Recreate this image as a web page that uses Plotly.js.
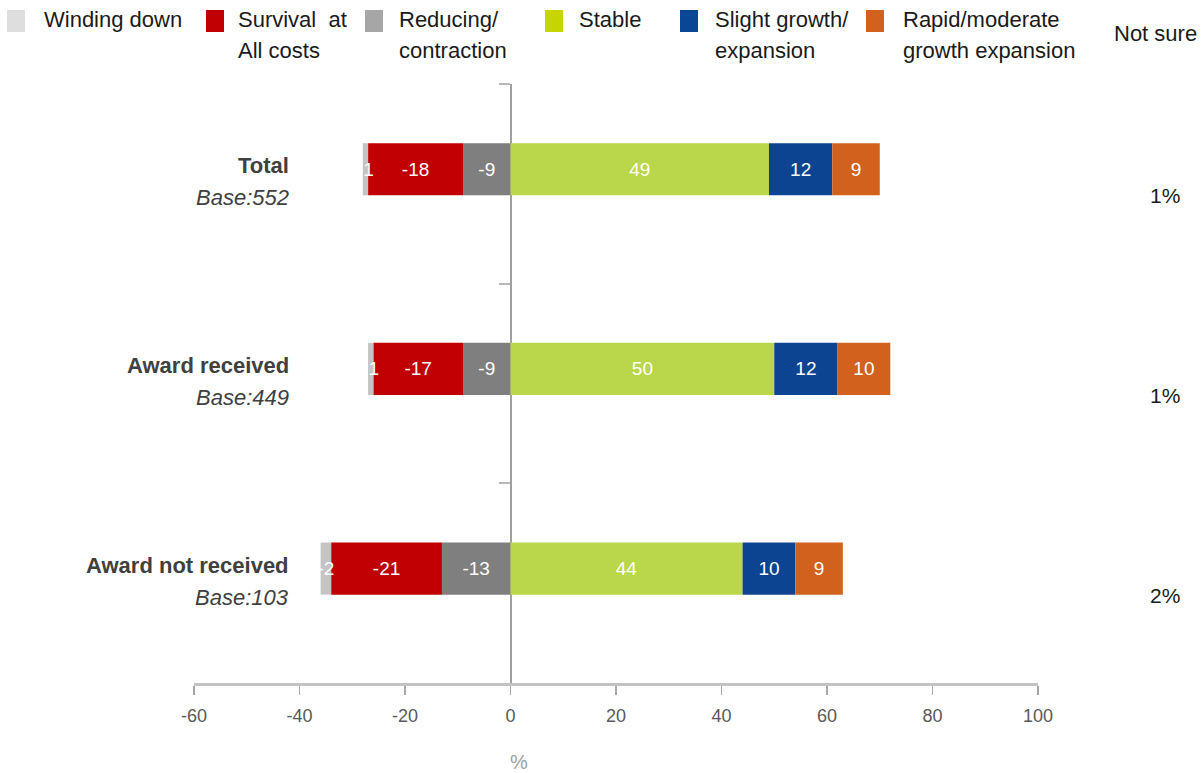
<!DOCTYPE html>
<html>
<head>
<meta charset="utf-8">
<script src="https://cdn.plot.ly/plotly-3.0.1.min.js"></script>
<style>
  html, body { margin: 0; padding: 0; background: #ffffff; }
  #chart { width: 1202px; height: 773px; }
</style>
</head>
<body>
<div id="chart"></div>
<script>
// ---------- DATA ----------
var categories   = ['Total', 'Award received', 'Award not received'];
var baseLabels   = ['Base:552', 'Base:449', 'Base:103'];
var windingDown  = [-1, -1, -2];
var survival     = [-18, -17, -21];
var reducing     = [-9, -9, -13];
var stable       = [49, 50, 44];
var slightGrowth = [12, 12, 10];
var rapidGrowth  = [9, 10, 9];
var notSure      = [1, 1, 2];
var seriesNames  = ['Winding down', 'Survival  at<br>All costs', 'Reducing/<br>contraction',
                    'Stable', 'Slight growth/<br>expansion', 'Rapid/moderate<br>growth expansion'];
var notSureTitle = 'Not sure';
var xTickValues  = [-60, -40, -20, 0, 20, 40, 60, 80, 100];
var xTickText    = ['-60', '-40', '-20', '0', '20', '40', '60', '80', '100'];
var xAxisTitle   = '%';

// ---------- STYLE ----------
var FONT = "'Liberation Sans', Arial, sans-serif";
var W = 1202, H = 773;
var M = {l: 194, r: 164, t: 84, b: 90};
var barColors    = ['#c4c4c4', '#c00000', '#7f7f7f', '#bad64a', '#0d4491', '#d1611c'];
var legendColors = ['#dedede', '#c00000', '#a6a6a6', '#c6d400', '#0b4595', '#d1611c'];
var plotW = W - M.l - M.r, plotH = H - M.t - M.b;
function px2x(px) { return (px - M.l) / plotW; }
function py2y(py) { return (H - M.b - py) / plotH; }

var BAR_W = 0.261, BAR_OFF = -0.2035;

function barTrace(vals, color) {
  return {
    type: 'bar', orientation: 'h',
    y: categories, x: vals,
    width: BAR_W, offset: BAR_OFF,
    marker: {color: color, line: {width: 0}},
    text: vals.map(String),
    textposition: 'inside', insidetextanchor: 'middle',
    constraintext: 'none', textangle: 0,
    textfont: {family: FONT, size: 19, color: '#ffffff'},
    cliponaxis: false,
    showlegend: false, hoverinfo: 'x+y'
  };
}

// order: negatives stack outward from zero, positives stack outward from zero
var traces = [
  barTrace(reducing, barColors[2]),
  barTrace(survival, barColors[1]),
  barTrace(windingDown, barColors[0]),
  barTrace(stable, barColors[3]),
  barTrace(slightGrowth, barColors[4]),
  barTrace(rapidGrowth, barColors[5])
];

// ---------- ANNOTATIONS & LEGEND ----------
var annotations = [];
var shapes = [];

categories.forEach(function (c, i) {
  annotations.push({
    xref: 'paper', yref: 'y', x: px2x(291), y: c, xanchor: 'right', yanchor: 'middle',
    yshift: 18, showarrow: false, text: '<b>' + c + '</b>',
    font: {family: FONT, size: 22, color: '#404040'}
  });
  annotations.push({
    xref: 'paper', yref: 'y', x: px2x(291), y: c, xanchor: 'right', yanchor: 'middle',
    yshift: -14, showarrow: false, text: '<i>' + baseLabels[i] + '</i>',
    font: {family: FONT, size: 22, color: '#404040'}
  });
  annotations.push({
    xref: 'paper', yref: 'y', x: px2x(1165), y: c, xanchor: 'center', yanchor: 'middle',
    yshift: -12, showarrow: false, text: notSure[i] + '%',
    font: {family: FONT, size: 21, color: '#1a1a1a'}
  });
});

var legMarkerX = [7, 206, 365, 545, 680, 866];
var legTextX   = [42, 236, 397, 577, 713, 901];
var legLineY   = [20, 50];
seriesNames.forEach(function (name, i) {
  shapes.push({
    type: 'rect', xref: 'paper', yref: 'paper',
    x0: px2x(legMarkerX[i]), x1: px2x(legMarkerX[i] + 18),
    y0: py2y(32), y1: py2y(10),
    fillcolor: legendColors[i], line: {width: 0}
  });
  name.split('<br>').forEach(function (line, k) {
    annotations.push({
      xref: 'paper', yref: 'paper', x: px2x(legTextX[i]), y: py2y(legLineY[k]),
      xanchor: 'left', yanchor: 'middle', align: 'left', showarrow: false,
      text: line, font: {family: FONT, size: 22, color: '#1a1a1a'}
    });
  });
});
annotations.push({
  xref: 'paper', yref: 'paper', x: px2x(1112), y: py2y(34),
  xanchor: 'left', yanchor: 'middle', showarrow: false,
  text: notSureTitle, font: {family: FONT, size: 22, color: '#1a1a1a'}
});
annotations.push({
  xref: 'x', yref: 'paper', x: 0, xshift: 8, y: py2y(762),
  xanchor: 'center', yanchor: 'middle', showarrow: false,
  text: xAxisTitle, font: {family: FONT, size: 20, color: '#a0a0a0'}
});

// ---------- LAYOUT ----------
var layout = {
  width: W, height: H,
  margin: M,
  paper_bgcolor: '#ffffff', plot_bgcolor: '#ffffff',
  barmode: 'relative',
  showlegend: false,
  font: {family: FONT, color: '#404040'},
  xaxis: {
    range: [-60, 100], tickmode: 'array', tickvals: xTickValues, ticktext: xTickText,
    showgrid: false, zeroline: false,
    showline: true, linecolor: '#c3c3c3', linewidth: 3,
    ticks: 'outside', ticklen: 9, tickwidth: 1.5, tickcolor: '#a6a6a6',
    ticklabelstandoff: 5,
    tickfont: {family: FONT, size: 18, color: '#595959'},
    fixedrange: true
  },
  yaxis: {
    type: 'category', range: [2.5, -0.5],
    anchor: 'free', position: 60 / 160,
    showgrid: false, zeroline: false,
    showline: true, linecolor: '#a0a0a0', linewidth: 2,
    ticks: 'outside', tickson: 'boundaries', ticklen: 11, tickwidth: 2, tickcolor: '#b8b8b8',
    showticklabels: false, layer: 'below traces',
    fixedrange: true
  },
  annotations: annotations,
  shapes: shapes
};

Plotly.newPlot('chart', traces, layout, {displayModeBar: false, staticPlot: true});
</script>
</body>
</html>
